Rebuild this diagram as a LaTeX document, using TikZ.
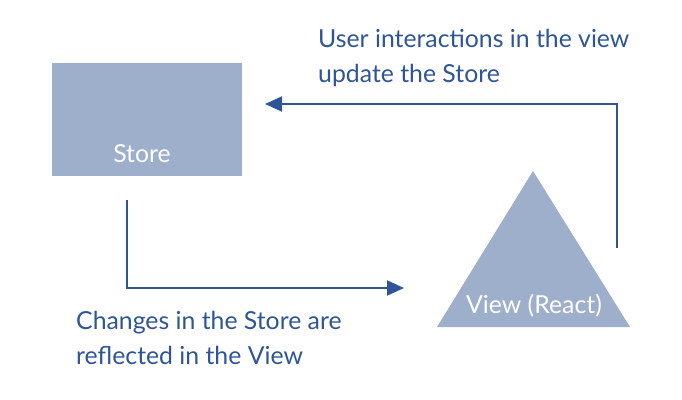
\documentclass[tikz,border=0pt]{standalone}
\usepackage{fontspec}
\setmainfont{Lato}
\usetikzlibrary{arrows.meta}
\definecolor{boxfill}{HTML}{9DAFCB}
\definecolor{ink}{HTML}{2E5596}
\tikzset{
  shapefill/.style={fill=boxfill, draw=none},
  flow/.style={draw=ink, line width=2pt, -{Triangle[length=17pt,width=15pt]}},
  caption/.style={text=ink, anchor=base west, inner sep=0pt, font=\fontsize{24.8}{35}\selectfont, align=left},
  inlabel/.style={text=white, anchor=base, inner sep=0pt, font=\fontsize{24.8}{28}\selectfont}
}
\begin{document}
\begin{tikzpicture}[x=1pt,y=-1pt]
\useasboundingbox (0,0) rectangle (682,399);
% Store box
\path[shapefill] (52,63) rectangle (242,176);
\node[inlabel] (storelbl) at (142,162) {Store};
\coordinate (storeright) at (265,104);
\coordinate (storebottom) at (127,200);
% View triangle
\path[shapefill] (533,171) -- (630,327) -- (437,327) -- cycle;
\node[inlabel] (viewlbl) at (534,313) {View (React)};
\coordinate (viewleft) at (404,288);
\coordinate (viewright) at (617,248);
% connectors
\draw[flow] (viewright) |- (storeright);
\draw[flow] (storebottom) |- (viewleft);
% captions
\node[caption] (top1) at (318,47) {User interactions in the view};
\node[caption] (top2) at (318,82) {update the Store};
\node[caption] (bot1) at (76,329) {Changes in the Store are};
\node[caption] (bot2) at (76,364) {reflected in the View};
\end{tikzpicture}
\end{document}
